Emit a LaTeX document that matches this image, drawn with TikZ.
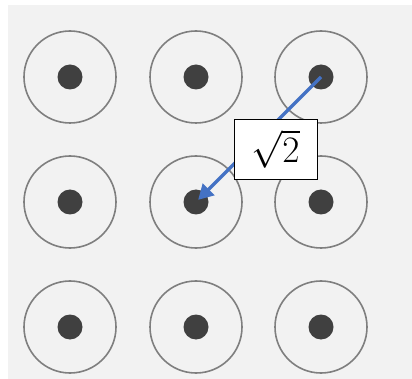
\documentclass[tikz,border=0pt]{standalone}
\usepackage{graphicx}
\usetikzlibrary{arrows.meta}
\definecolor{bggray}{HTML}{F2F2F2}
\definecolor{ringgray}{HTML}{7F7F7F}
\definecolor{dotgray}{HTML}{404040}
\definecolor{arrowblue}{HTML}{4472C4}
\tikzset{
  ring/.style={circle, draw=ringgray, line width=1.6pt, minimum size=92pt, inner sep=0pt},
  dot/.style={circle, fill=dotgray, minimum size=25pt, inner sep=0pt},
  labelbox/.style={draw=black, fill=white, line width=0.8pt, minimum width=83pt, minimum height=60pt, inner sep=0pt}
}
\begin{document}
\begin{tikzpicture}[x=1pt, y=-1pt]
\useasboundingbox (0,0) rectangle (412,379);
\fill[bggray] (8,5) rectangle (412,379);
% grid of sites
\foreach \i/\x in {1/70,2/196,3/321}{
  \foreach \j/\y in {1/77,2/202,3/327}{
    \node[ring] (r\i\j) at (\x,\y) {};
    \node[dot] (p\i\j) at (\x,\y) {};
  }
}
\draw[arrowblue, line width=3.5pt, -{Triangle[length=15pt,width=16pt]}, shorten >=3pt]
  (p31.center) -- (p22.center);
\node[labelbox] (lbl) at (275.5,149) {\scalebox{1.5}{\Huge$\sqrt{2}$}};
\end{tikzpicture}
\end{document}
